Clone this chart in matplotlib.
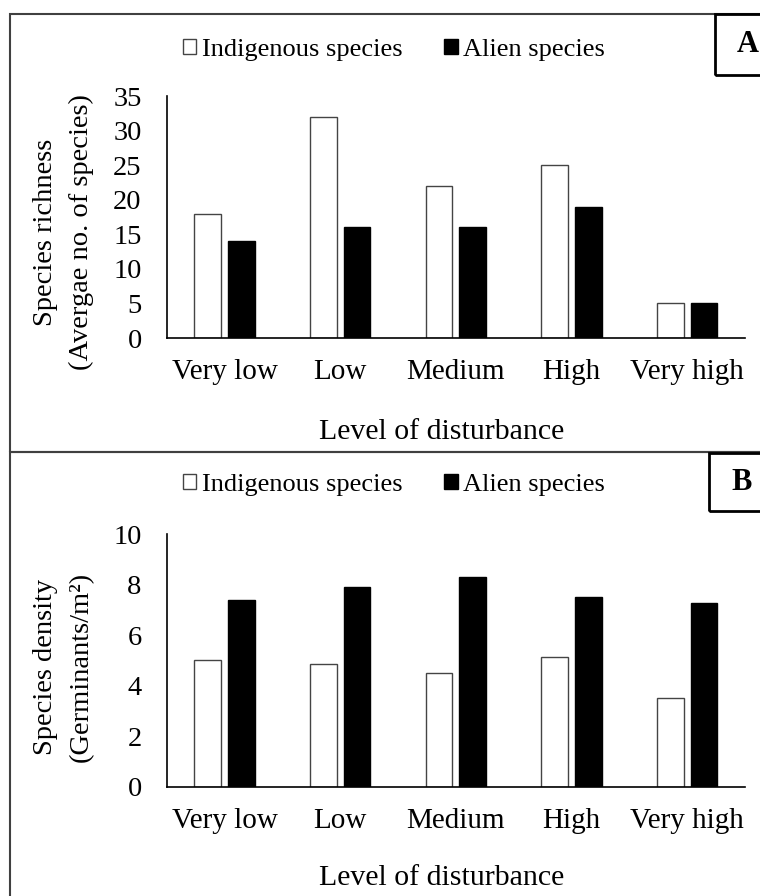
import numpy as np
import matplotlib
matplotlib.use("Agg")
import matplotlib.pyplot as plt
from matplotlib.patches import Rectangle

plt.rcParams['font.family'] = ['Liberation Serif', 'DejaVu Serif']

levels = ['Very low', 'Low', 'Medium', 'High', 'Very high']
series = ['Indigenous species', 'Alien species']

# panel A: species richness
rich_indig = [18, 32, 22, 25, 5]
rich_alien = [14, 16, 16, 19, 5]

# panel B: species density
dens_indig = [5.0, 4.85, 4.5, 5.15, 3.5]
dens_alien = [7.4, 7.9, 8.3, 7.5, 7.25]

W, H = 760, 896
fig = plt.figure(figsize=(W / 100, H / 100), dpi=100)
fs = 19

def px(x0, y0, x1, y1):
    # pixel box -> figure fraction [left, bottom, width, height]
    return [x0 / W, 1 - y1 / H, (x1 - x0) / W, (y1 - y0) / H]

def panel(rect, indig, alien, ymax, ystep, yl1, yl2, ycen, xlab_y, leg_y, tag, tag_box):
    ax = fig.add_axes(rect)
    x = np.arange(len(levels))
    w = 0.23
    ax.bar(x - 0.145, indig, w, color='white', edgecolor='#444444', lw=1.0, label=series[0])
    ax.bar(x + 0.145, alien, w, color='black', edgecolor='black', lw=1.0, label=series[1])
    ax.set_xlim(-0.5, len(levels) - 0.5)
    ax.set_ylim(0, ymax)
    ax.set_yticks(np.arange(0, ymax + 0.01, ystep))
    ax.set_xticks(x)
    ax.set_xticklabels(levels, fontsize=21)
    ax.tick_params(length=0)
    ax.tick_params(axis='y', pad=18, labelsize=20.5)
    ax.tick_params(axis='x', pad=15)
    for s in ['top', 'right']:
        ax.spines[s].set_visible(False)
    for s in ['left', 'bottom']:
        ax.spines[s].set_linewidth(1.2)
    ax.legend(loc='center', bbox_to_anchor=(394 / W, 1 - leg_y / H),
              bbox_transform=fig.transFigure, ncol=2, frameon=False,
              fontsize=fs, handlelength=0.5, handleheight=0.5,
              handletextpad=0.2, columnspacing=1.6, borderaxespad=0)
    fig.text(46 / W, 1 - ycen / H, yl1, rotation=90, ha='center', va='center', fontsize=20.5)
    fig.text(81 / W, 1 - ycen / H, yl2, rotation=90, ha='center', va='center', fontsize=20.5)
    fig.text(442 / W, 1 - xlab_y / H, 'Level of disturbance', ha='center', va='center', fontsize=21.5)
    bx0, by0, by1 = tag_box
    fig.patches.append(Rectangle((bx0 / W, 1 - by1 / H), (W + 20 - bx0) / W, (by1 - by0) / H,
                                 transform=fig.transFigure, fill=False, lw=2, ec='black'))
    fig.text((bx0 + 33) / W, 1 - (by0 + by1) / 2 / H, tag, ha='center', va='center',
             fontsize=22, fontweight='bold')
    return ax

# outer frames of both panels
fig.patches.append(Rectangle((10 / W, 1 - 452 / H), (W + 20) / W, 438 / H,
                             transform=fig.transFigure, fill=False, lw=1.5, ec='#404040'))
fig.patches.append(Rectangle((10 / W, -0.1), (W + 20) / W, (1 - 452 / H) + 0.1,
                             transform=fig.transFigure, fill=False, lw=1.5, ec='#404040'))

panel(px(166.7, 96, 745, 338), rich_indig, rich_alien, 35, 5,
      'Species richness', '(Avergae no. of species)', 232, 432, 50, 'A', (715, 14, 75))
panel(px(166.7, 534, 745, 786.7), dens_indig, dens_alien, 10, 2,
      'Species density', '(Germinants/m²)', 667, 878, 485, 'B', (709, 453, 511))

fig.savefig('out.png', dpi=100)
